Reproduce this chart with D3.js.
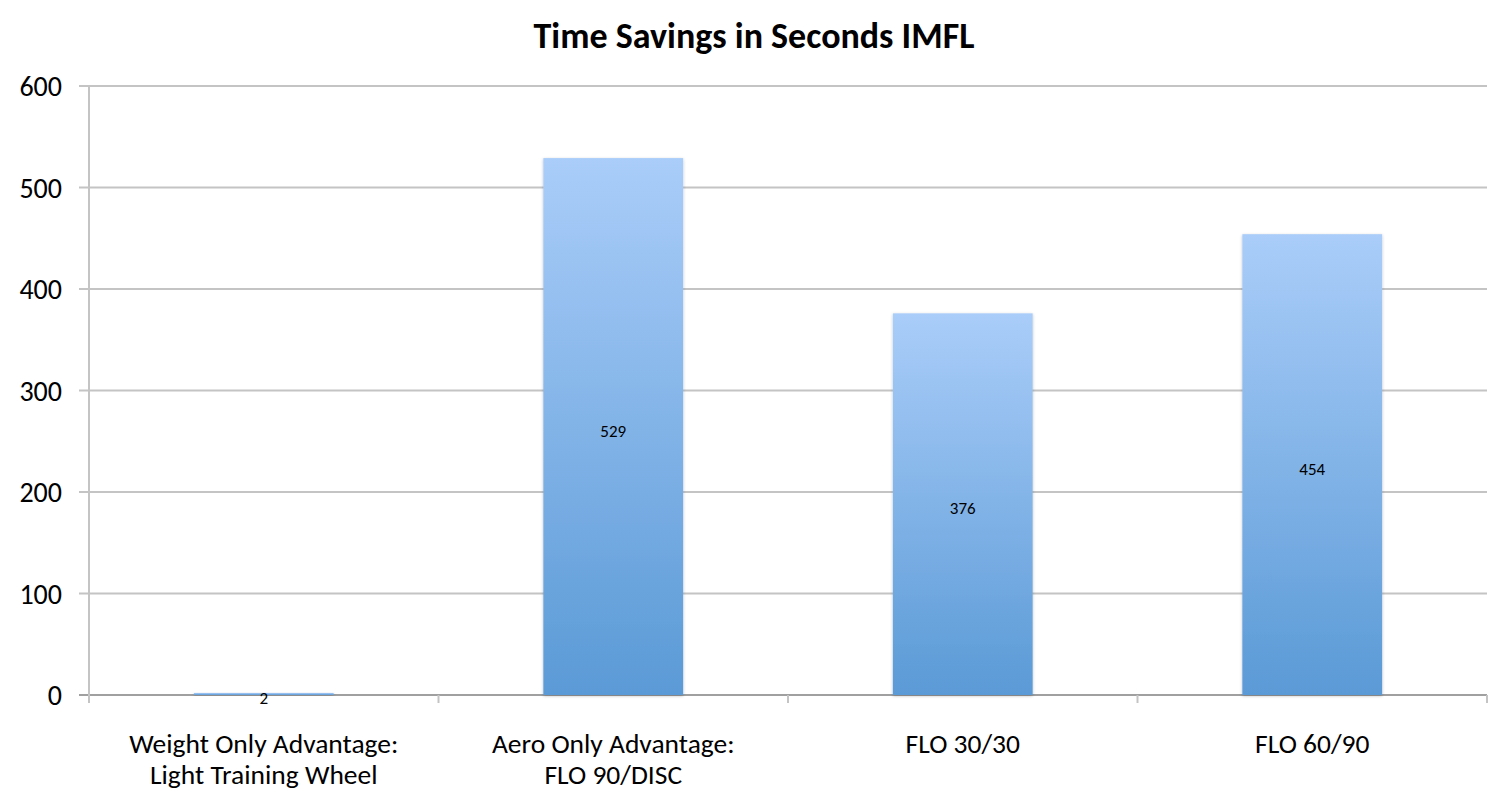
<!DOCTYPE html>
<html><head><meta charset="utf-8">
<script src="https://cdn.jsdelivr.net/npm/d3@7/dist/d3.min.js"></script>
<style>body{margin:0;background:#fff;} svg{display:block;}</style>
</head><body>
<svg id="chart" width="1508" height="806"></svg>
<script>
const title = "Time Savings in Seconds IMFL";
const categories = [["Weight Only Advantage:", "Light Training Wheel"], ["Aero Only Advantage:", "FLO 90/DISC"], ["FLO 30/30"], ["FLO 60/90"]];
const values = [2, 529, 376, 454];
const yTicks = [0, 100, 200, 300, 400, 500, 600];

(function () {
const svg = d3.select("#chart");
const font = "Carlito, 'Open Sans', 'Liberation Sans', sans-serif";
const pLeft = 89, pRight = 1487, pTop = 86, pBottom = 695;

const x = d3.scaleBand().domain(d3.range(values.length)).range([pLeft, pRight]).paddingInner(0.6).paddingOuter(0.3);
const xb = d3.scaleBand().domain(d3.range(values.length)).range([pLeft, pRight]);
const y = d3.scaleLinear().domain([0, 600]).range([pBottom, pTop]);

const defs = svg.append("defs");
const g = defs.append("linearGradient").attr("id", "barGrad").attr("x1", 0).attr("y1", 0).attr("x2", 0).attr("y2", 1);
g.append("stop").attr("offset", "0%").attr("stop-color", "#aacdf9");
g.append("stop").attr("offset", "100%").attr("stop-color", "#5a9ad6");
const f = defs.append("filter").attr("id", "shadow").attr("x", "-10%").attr("y", "-10%").attr("width", "120%").attr("height", "120%");
f.append("feDropShadow").attr("dx", 0).attr("dy", 1).attr("stdDeviation", 1.5).attr("flood-color", "#000").attr("flood-opacity", 0.25);

svg.append("g").selectAll("line").data(yTicks).join("line")
  .attr("x1", pLeft - 10).attr("x2", pRight).attr("y1", d => y(d)).attr("y2", d => y(d))
  .attr("stroke", d => d === 0 ? "#a0a0a0" : "#c4c4c4").attr("stroke-width", 2);

svg.append("line").attr("x1", pLeft).attr("x2", pLeft).attr("y1", pTop).attr("y2", pBottom + 8)
  .attr("stroke", "#c4c4c4").attr("stroke-width", 2);

svg.append("g").selectAll("line").data(d3.range(values.length + 1)).join("line")
  .attr("x1", d => pLeft + d * xb.bandwidth()).attr("x2", d => pLeft + d * xb.bandwidth())
  .attr("y1", pBottom).attr("y2", pBottom + 8).attr("stroke", "#c4c4c4").attr("stroke-width", 2);

svg.append("g").selectAll("text").data(yTicks).join("text")
  .attr("x", 62).attr("y", d => y(d)).attr("dy", "0.36em").attr("text-anchor", "end")
  .attr("font-family", font).attr("font-size", 28).attr("fill", "#000").text(d => d);

svg.append("g").selectAll("rect").data(values).join("rect")
  .attr("x", (d, i) => x(i)).attr("width", x.bandwidth())
  .attr("y", d => y(d)).attr("height", d => y(0) - y(d))
  .attr("fill", "url(#barGrad)").attr("filter", "url(#shadow)");

svg.append("g").selectAll("text").data(values).join("text")
  .attr("x", (d, i) => x(i) + x.bandwidth() / 2).attr("y", d => (y(d) + y(0)) / 2)
  .attr("dy", "0.6em").attr("text-anchor", "middle")
  .attr("font-family", font).attr("font-size", 17).attr("fill", "#000").text(d => d);

const cl = svg.append("g").selectAll("text").data(categories).join("text")
  .attr("x", (d, i) => xb(i) + xb.bandwidth() / 2).attr("y", 753)
  .attr("text-anchor", "middle").attr("font-family", font).attr("font-size", 27.5).attr("fill", "#000");
cl.selectAll("tspan").data(d => d).join("tspan")
  .attr("x", function() { return d3.select(this.parentNode).attr("x"); })
  .attr("dy", (d, i) => i === 0 ? 0 : 31).text(d => d);

svg.append("text").attr("x", 754).attr("y", 48).attr("text-anchor", "middle")
  .attr("font-family", font).attr("font-size", 36).attr("font-weight", "bold").attr("fill", "#000").text(title);
})();
</script>
</body></html>
